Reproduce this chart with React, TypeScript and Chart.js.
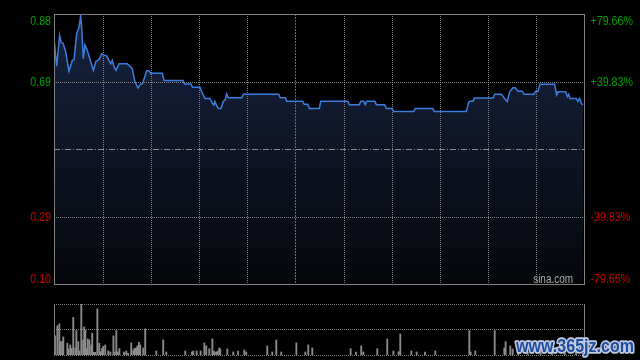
import React, { useEffect, useRef } from "react";
import { Chart, registerables } from "chart.js";

Chart.register(...registerables);

// ---------- data ----------
const prevClose = 0.4898;
const pctRange = 79.66;
const tickPcts = [79.66, 39.83, -39.83, -79.66];
const priceTickLabels = ["0.88", "0.69", "0.29", "0.10"];
const pctTickLabels = ["+79.66%", "+39.83%", "-39.83%", "-79.66%"];
const sessionMinutes = 330;
const gridMinutes = [30, 60, 90, 120, 150, 180, 210, 240, 270, 300];
const middayMinute = 150;

const priceMinutes = [
  0.0, 1.7, 3.5, 4.5, 5.6, 7.3, 9.3, 11.4, 12.5, 14.1, 15.6, 16.6, 17.4, 18.2, 19.3, 20.7, 22.9, 24.5,
  26.1, 28.0, 29.7, 31.1, 32.8, 34.2, 35.3, 36.3, 37.4, 38.6, 40.5, 45.6, 46.7, 48.7, 50.4, 52.3, 53.5,
  55.2, 57.7, 59.1, 60.2, 67.4, 68.5, 80.3, 81.2, 85.3, 86.2, 90.9, 92.0, 94.0, 97.1, 98.6, 99.6, 100.2,
  101.3, 102.3, 104.0, 105.4, 106.5, 107.5, 108.5, 116.9, 117.9, 139.9, 140.9, 144.0, 144.9, 154.8,
  155.8, 158.0, 159.0, 165.2, 166.1, 182.9, 183.9, 190.1, 191.1, 192.8, 193.8, 194.7, 199.7, 200.7,
  205.9, 206.9, 210.4, 211.5, 223.9, 224.9, 235.8, 236.8, 256.7, 258.2, 259.2, 260.9, 261.9, 273.3,
  274.4, 278.5, 280.6, 282.2, 283.7, 285.8, 287.2, 288.9, 291.6, 292.6, 298.9, 299.9, 301.3, 302.6,
  311.7, 313.0, 313.8, 318.6, 319.6, 320.5, 321.3, 325.2, 326.2, 327.3, 328.3, 329.3,
];
const prices = [
  0.809, 0.729, 0.818, 0.797, 0.796, 0.770, 0.714, 0.746, 0.748, 0.823, 0.842, 0.874, 0.828, 0.751,
  0.790, 0.775, 0.741, 0.717, 0.743, 0.748, 0.765, 0.761, 0.759, 0.746, 0.736, 0.746, 0.727, 0.717,
  0.736, 0.736, 0.732, 0.722, 0.684, 0.666, 0.675, 0.680, 0.716, 0.716, 0.709, 0.709, 0.688, 0.688,
  0.678, 0.678, 0.668, 0.668, 0.655, 0.636, 0.636, 0.622, 0.617, 0.627, 0.615, 0.607, 0.607, 0.627,
  0.631, 0.649, 0.638, 0.638, 0.648, 0.648, 0.638, 0.638, 0.628, 0.628, 0.619, 0.619, 0.607, 0.607,
  0.628, 0.628, 0.618, 0.618, 0.628, 0.628, 0.618, 0.628, 0.628, 0.618, 0.618, 0.607, 0.607, 0.598,
  0.598, 0.607, 0.607, 0.598, 0.598, 0.625, 0.628, 0.628, 0.637, 0.637, 0.648, 0.648, 0.636, 0.627,
  0.655, 0.667, 0.667, 0.657, 0.657, 0.648, 0.648, 0.657, 0.657, 0.677, 0.677, 0.646, 0.655, 0.655,
  0.641, 0.648, 0.636, 0.636, 0.627, 0.636, 0.622, 0.617,
];

const volMinutes = [
  0.6, 2.1, 3.3, 4.2, 5.2, 5.8, 8.3, 8.9, 10.1, 11.0, 12.0, 13.3, 13.9, 15.1, 15.8, 17.0, 18.2, 18.8,
  19.5, 20.4, 21.0, 22.0, 23.2, 23.8, 24.9, 25.7, 27.0, 28.2, 29.1, 29.9, 30.7, 31.9, 33.8, 35.1, 37.0,
  37.8, 38.8, 39.8, 40.7, 43.6, 45.0, 46.1, 48.1, 49.4, 50.2, 51.1, 51.9, 52.9, 53.7, 55.6, 56.8, 63.7,
  68.0, 69.9, 81.7, 85.9, 86.7, 88.8, 91.3, 93.6, 94.8, 96.7, 98.6, 99.6, 100.9, 101.9, 102.9, 103.5,
  107.9, 111.6, 114.6, 118.5, 119.7, 132.8, 135.9, 138.4, 141.5, 150.9, 156.5, 158.3, 160.8, 184.7,
  188.0, 191.3, 192.6, 201.3, 207.5, 211.3, 214.6, 215.6, 222.5, 225.8, 231.0, 237.4, 258.6, 259.4,
  262.3, 274.4, 280.4, 281.2, 284.1, 285.6, 289.0, 295.0, 303.0, 310.0, 318.0, 325.0,
];
const volumes = [
  190, 290, 310, 133, 137, 180, 117, 60, 100, 67, 373, 70, 243, 133, 40, 507, 150, 280, 247, 63, 160,
  150, 100, 217, 27, 27, 460, 117, 33, 67, 87, 100, 43, 30, 190, 30, 243, 30, 63, 30, 40, 17, 120, 50,
  67, 70, 90, 127, 100, 70, 260, 40, 150, 30, 40, 30, 40, 40, 40, 120, 90, 63, 160, 40, 30, 40, 70, 60,
  60, 30, 40, 50, 30, 90, 30, 150, 30, 120, 30, 100, 70, 63, 30, 90, 30, 63, 160, 40, 33, 210, 40, 30,
  30, 40, 243, 30, 40, 243, 70, 133, 90, 60, 40, 30, 50, 30, 40, 30,
];
const volMax = 507;

const GREEN = "#00a000";
const RED = "#cc0000";
const GRID = "#808080";

function drawNarrow(
  ctx: CanvasRenderingContext2D,
  text: string,
  x: number,
  y: number,
  align: CanvasTextAlign,
  size: number,
  sx: number,
  color: string
) {
  ctx.save();
  ctx.font = `${size}px "Liberation Sans", Arial, sans-serif`;
  ctx.fillStyle = color;
  ctx.textAlign = align;
  ctx.textBaseline = "alphabetic";
  ctx.translate(x, y);
  ctx.scale(sx, 1);
  ctx.fillText(text, 0, 0);
  ctx.restore();
}

function hLine(ctx: CanvasRenderingContext2D, x1: number, x2: number, y: number, dash: number[], color: string) {
  ctx.save();
  ctx.strokeStyle = color;
  ctx.lineWidth = 1;
  ctx.setLineDash(dash);
  ctx.beginPath();
  ctx.moveTo(x1, y);
  ctx.lineTo(x2, y);
  ctx.stroke();
  ctx.restore();
}

function vLine(ctx: CanvasRenderingContext2D, x: number, y1: number, y2: number, dash: number[], color: string) {
  ctx.save();
  ctx.strokeStyle = color;
  ctx.lineWidth = 1;
  ctx.setLineDash(dash);
  ctx.beginPath();
  ctx.moveTo(x, y1);
  ctx.lineTo(x, y2);
  ctx.stroke();
  ctx.restore();
}

const mainDecor = {
  id: "mainDecor",
  beforeDatasetsDraw(chart: any) {
    const { ctx, chartArea: ca, scales } = chart;
    const xs = scales.x;
    const ys = scales.y;
    gridMinutes.forEach((m) => {
      const px = Math.ceil(xs.getPixelForValue(m)) + 0.5;
      if (m === middayMinute) vLine(ctx, px, ca.top, ca.bottom, [2, 1], "#6a6a6a");
      else vLine(ctx, px, ca.top, ca.bottom, [1, 1], GRID);
    });
    [39.83, -39.83].forEach((p) => {
      const py = Math.ceil(ys.getPixelForValue(prevClose * (1 + p / 100))) + 0.5;
      hLine(ctx, ca.left, ca.right, py, [1, 1], GRID);
    });
    const pc = Math.ceil(ys.getPixelForValue(prevClose)) + 0.5;
    hLine(ctx, ca.left, ca.right, pc, [6, 2, 1, 2], "#8a8a8a");
  },
  afterDraw(chart: any) {
    const { ctx, chartArea: ca, scales } = chart;
    const ys = scales.y;
    ctx.save();
    ctx.strokeStyle = "#808080";
    ctx.lineWidth = 1;
    ctx.strokeRect(Math.floor(ca.left) + 0.5, Math.floor(ca.top) + 0.5, Math.round(ca.right - ca.left), Math.round(ca.bottom - ca.top));
    ctx.restore();
    tickPcts.forEach((p, i) => {
      let py = ys.getPixelForValue(prevClose * (1 + p / 100));
      if (i === 0) py += 6.3;
      if (i === tickPcts.length - 1) py -= 5.7;
      const color = p > 0 ? GREEN : RED;
      drawNarrow(ctx, priceTickLabels[i], ca.left - 3, py + 4.7, "right", 13, 0.82, color);
      drawNarrow(ctx, pctTickLabels[i], ca.right + 6.5, py + 4.7, "left", 13, 0.82, color);
    });
    drawNarrow(ctx, "sina.com", ca.right - 11, ca.bottom - 1, "right", 12, 0.83, "#aaaaaa");
  },
};

const volDecor = {
  id: "volDecor",
  beforeDatasetsDraw(chart: any) {
    const { ctx, chartArea: ca, scales } = chart;
    const ys = scales.y;
    [volMax, volMax / 2, 0].forEach((v) => {
      const py = Math.floor(ys.getPixelForValue(v)) + 0.5;
      hLine(ctx, ca.left, ca.right, py, [1, 1], GRID);
    });
  },
  afterDraw(chart: any) {
    const { ctx, chartArea: ca } = chart;
    const top = Math.floor(ca.top);
    const bottom = Math.floor(ca.bottom) + 1;
    vLine(ctx, Math.floor(ca.left) + 0.5, top, bottom, [], "#808080");
    vLine(ctx, Math.floor(ca.right) + 0.5, top, bottom, [], "#808080");
    // watermark
    ctx.save();
    ctx.font = 'bold 19px "Liberation Sans", Arial, sans-serif';
    const text = "www.365jz.com";
    const w = ctx.measureText(text).width;
    const sx = 118 / w;
    ctx.translate(516, 57);
    ctx.scale(sx, 1);
    ctx.textAlign = "left";
    ctx.textBaseline = "alphabetic";
    ctx.lineJoin = "round";
    ctx.lineWidth = 3.5;
    ctx.strokeStyle = "rgba(200,212,238,0.95)";
    ctx.strokeText(text, 0, 0);
    ctx.fillStyle = "#1f4c9c";
    ctx.fillText(text, 0, 0);
    ctx.restore();
  },
};

export default function App() {
  const mainRef = useRef<HTMLCanvasElement>(null);
  const volRef = useRef<HTMLCanvasElement>(null);

  useEffect(() => {
    if (!mainRef.current || !volRef.current) return;
    const yMin = prevClose * (1 - pctRange / 100);
    const yMax = prevClose * (1 + pctRange / 100);

    const main = new Chart(mainRef.current, {
      type: "line",
      data: {
        datasets: [
          {
            data: priceMinutes.map((m, i) => ({ x: m, y: prices[i] })),
            borderColor: "#3b7ddd",
            borderWidth: 1.5,
            pointRadius: 0,
            tension: 0,
            fill: "start",
            backgroundColor: (context: any) => {
              const ch = context.chart;
              const ca = ch.chartArea;
              if (!ca) return "rgba(20,32,58,1)";
              const g = ch.ctx.createLinearGradient(0, ca.top, 0, ca.bottom);
              g.addColorStop(0, "#172442");
              g.addColorStop(0.45, "#0f1628");
              g.addColorStop(1, "#05070b");
              return g;
            },
          },
        ],
      },
      options: {
        animation: false,
        responsive: false,
        maintainAspectRatio: false,
        layout: { padding: { left: 54, right: 56, top: 14, bottom: 11 } },
        scales: {
          x: { type: "linear", min: 0, max: sessionMinutes, display: false },
          y: { type: "linear", min: yMin, max: yMax, display: false },
        },
        plugins: {
          legend: { display: false },
          tooltip: { enabled: false },
          filler: { drawTime: "beforeDraw" },
        },
      } as any,
      plugins: [mainDecor],
    });

    const vol = new Chart(volRef.current, {
      type: "bar",
      data: {
        datasets: [
          {
            data: volMinutes.map((m, i) => ({ x: m, y: volumes[i] })),
            backgroundColor: "#8c8c8c",
            borderWidth: 0,
            barThickness: 1.2,
          },
        ],
      },
      options: {
        animation: false,
        responsive: false,
        maintainAspectRatio: false,
        layout: { padding: { left: 54, right: 56, top: 9, bottom: 5 } },
        scales: {
          x: { type: "linear", min: 0, max: sessionMinutes, display: false, offset: false },
          y: { type: "linear", min: 0, max: volMax, display: false },
        },
        plugins: { legend: { display: false }, tooltip: { enabled: false } },
      } as any,
      plugins: [volDecor],
    });

    return () => {
      main.destroy();
      vol.destroy();
    };
  }, []);

  return (
    <div style={{ position: "fixed", left: 0, top: 0, width: 640, height: 360, background: "#000", overflow: "hidden" }}>
      <canvas ref={mainRef} width={640} height={295} style={{ position: "absolute", left: 0, top: 0, width: 640, height: 295 }} />
      <canvas ref={volRef} width={640} height={65} style={{ position: "absolute", left: 0, top: 295, width: 640, height: 65 }} />
    </div>
  );
}
